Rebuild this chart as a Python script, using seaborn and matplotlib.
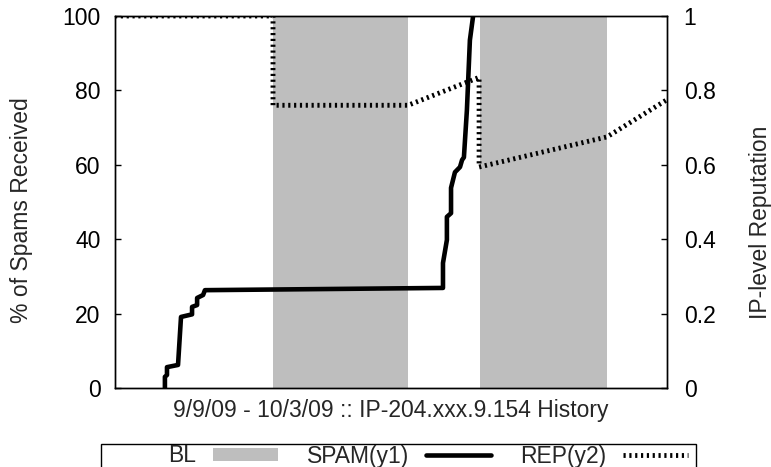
import numpy as np
import pandas as pd
import matplotlib
matplotlib.use('Agg')
import matplotlib.pyplot as plt
import seaborn as sns
from matplotlib.patches import Patch, Rectangle
from matplotlib.lines import Line2D

# days since 9/9/09
spam_day = [2.17, 2.17, 2.26, 2.26, 2.74, 2.87, 3.35, 3.35, 3.57, 3.57, 3.83, 3.91,
            14.26, 14.26, 14.43, 14.43, 14.61, 14.61, 14.78, 15.00, 15.09, 15.17,
            15.30, 15.43, 15.57]
spam_pct = [0, 3.0, 3.5, 5.6, 6.2, 19.1, 19.8, 21.8, 22.3, 24.2, 25.0, 26.3,
            26.9, 33.6, 39.8, 46.0, 47.0, 53.8, 58.0, 59.4, 61.3, 62.0,
            74.7, 93.5, 100]

rep_day = [0, 6.87, 6.87, 12.74, 15.83, 15.83, 21.39, 24]
rep_val = [1.0, 1.0, 0.76, 0.76, 0.835, 0.594, 0.675, 0.775]

bl_start = [6.87, 15.87]
bl_end = [12.74, 21.39]

sns.set_style('ticks')
plt.rcParams['font.family'] = ['Liberation Sans', 'DejaVu Sans']
plt.rcParams['font.size'] = 16.5

spam_df = pd.DataFrame({'day': spam_day, 'spam': spam_pct})
rep_df = pd.DataFrame({'day': rep_day, 'rep': rep_val})

REP_STYLE = (0, (0.45, 0.75))

fig = plt.figure(figsize=(7.71, 4.67), dpi=100)
ax = fig.add_axes([115/771, 1-388/467, 552/771, 372/467])
ax2 = ax.twinx()
# spam line on top of the reputation line
ax.set_zorder(ax2.get_zorder() + 1)
ax.patch.set_visible(False)

for s, e in zip(bl_start, bl_end):
    ax2.axvspan(s, e, color='#bebebe', lw=0, zorder=0)

sns.lineplot(data=rep_df, x='day', y='rep', ax=ax2, color='black', lw=3.5,
             linestyle=REP_STYLE, sort=False, estimator=None)
sns.lineplot(data=spam_df, x='day', y='spam', ax=ax, color='black', lw=3.3,
             sort=False, estimator=None)

ax.set_xlim(0, 24)
ax.set_ylim(0, 100)
ax2.set_ylim(0, 1)
ax.set_xticks([])
ax.set_yticks([0, 20, 40, 60, 80, 100])
ax2.set_yticks([0, 0.2, 0.4, 0.6, 0.8, 1])
ax2.set_yticklabels(['0', '0.2', '0.4', '0.6', '0.8', '1'])
ax.tick_params(axis='y', direction='in', length=4, width=1, pad=10.5, colors='black')
ax2.tick_params(axis='y', direction='in', length=4, width=1, pad=12, colors='black')
for a in (ax, ax2):
    for sp in a.spines.values():
        sp.set_visible(True)
        sp.set_linewidth(1)
        sp.set_color('black')

ax.set_xlabel('9/9/09 - 10/3/09 :: IP-204.xxx.9.154 History', va='center')
ax.xaxis.set_label_coords(0.5, (388-411)/372)
ax.set_ylabel('% of Spams Received', rotation=90, va='center')
ax.yaxis.set_label_coords((22-115)/552, (388-210)/372)
ax2.set_ylabel('IP-level Reputation', rotation=90, va='center')
ax2.yaxis.set_label_coords((761-115)/552, (388-222)/372)

# legend frame (runs off the bottom of the figure)
fig.patches.append(Rectangle((101/771, -0.05), 595/771, 0.05 + 23/467,
                             transform=fig.transFigure, fill=False,
                             edgecolor='black', lw=1))
handles = [Patch(facecolor='#bebebe', edgecolor='none', label='BL'),
           Line2D([], [], color='black', lw=3.3, label='SPAM(y1)'),
           Line2D([], [], color='black', lw=3.5, linestyle=REP_STYLE, label='REP(y2)')]
fig.legend(handles=handles, loc='center left', bbox_to_anchor=(168/771, 1-456/467),
           ncol=3, frameon=False, markerfirst=False, handlelength=2.84,
           handleheight=0.5, handletextpad=0.74, columnspacing=1.25,
           borderpad=0, borderaxespad=0, fontsize=16.5)

fig.savefig('out.png', dpi=100)
